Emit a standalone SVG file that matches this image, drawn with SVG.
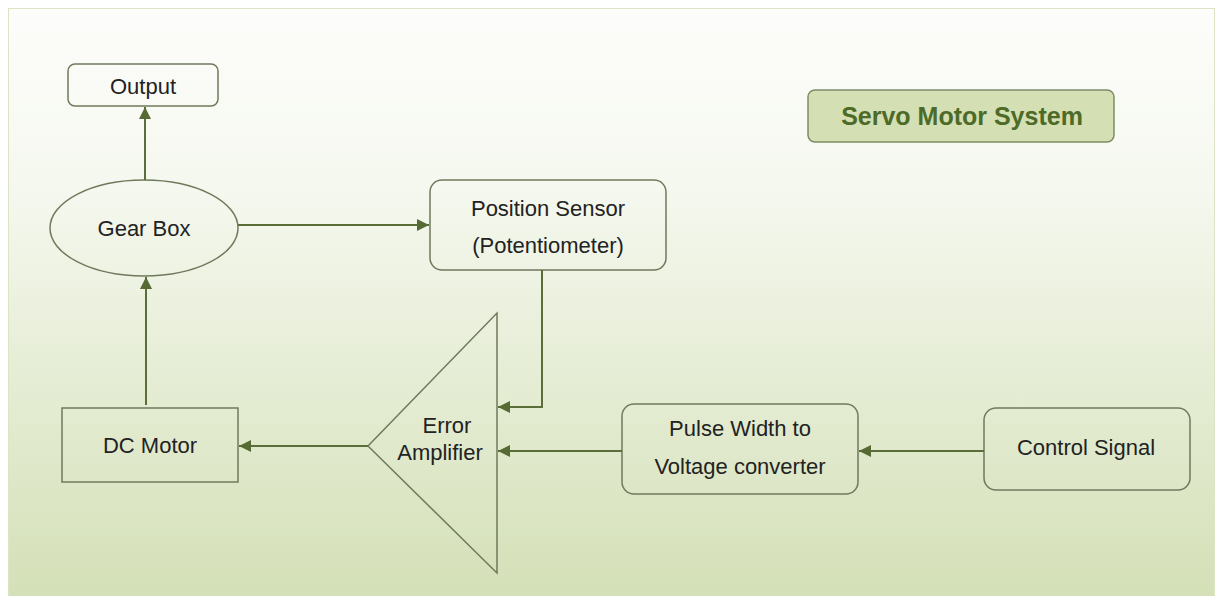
<svg xmlns="http://www.w3.org/2000/svg" width="1218" height="596" viewBox="0 0 1218 596">
<defs>
<linearGradient id="bg" x1="0" y1="0" x2="0" y2="1">
<stop offset="0" stop-color="#fdfdfb"/>
<stop offset="0.3" stop-color="#f5f8ef"/>
<stop offset="1" stop-color="#d4e0b7"/>
</linearGradient>
<marker id="ah" viewBox="0 0 12 12" refX="12" refY="6" markerWidth="12" markerHeight="12" markerUnits="userSpaceOnUse" orient="auto">
<path d="M0,0 L12,6 L0,12 z" fill="#566a34"/>
</marker>
<style>
.node{fill:none;stroke:#6f7a5c;stroke-width:1.5}
.lbl{font-family:"Liberation Sans",Arial,sans-serif;font-size:22px;fill:#222;text-anchor:middle;dominant-baseline:central}
.conn{fill:none;stroke:#5b6e3a;stroke-width:2;marker-end:url(#ah)}
.title{font-family:"Liberation Sans",Arial,sans-serif;font-size:25px;font-weight:bold;fill:#4d6b27;text-anchor:middle;dominant-baseline:central}
</style>
</defs>
<rect x="8.5" y="8.5" width="1206" height="590" fill="url(#bg)" stroke="#dde4c6" stroke-width="1"/>
<g id="title">
<rect x="808" y="90" width="306" height="52" rx="7" fill="#d4dfb4" stroke="#7f8c68" stroke-width="1.5"/>
<text class="title" x="962" y="116">Servo Motor  System</text>
</g>
<g id="output">
<rect class="node" x="68" y="64" width="150" height="42" rx="7"/>
<text class="lbl" x="143" y="86">Output</text>
</g>
<g id="gearbox">
<ellipse class="node" cx="144" cy="228" rx="94" ry="48"/>
<text class="lbl" x="144" y="228">Gear Box</text>
</g>
<g id="sensor">
<rect class="node" x="430" y="180" width="236" height="90" rx="12"/>
<text class="lbl" x="548" y="208">Position Sensor</text>
<text class="lbl" x="548" y="245">(Potentiometer)</text>
</g>
<g id="amplifier">
<path class="node" d="M497,313 L497,573 L368,446 z"/>
<text class="lbl" x="447" y="425">Error</text>
<text class="lbl" x="440" y="452">Amplifier</text>
</g>
<g id="dcmotor">
<rect class="node" x="62" y="408" width="176" height="74"/>
<text class="lbl" x="150" y="445">DC Motor</text>
</g>
<g id="pwconv">
<rect class="node" x="622" y="404" width="236" height="90" rx="12"/>
<text class="lbl" x="740" y="428">Pulse Width to</text>
<text class="lbl" x="740" y="466">Voltage converter</text>
</g>
<g id="control">
<rect class="node" x="984" y="408" width="206" height="82" rx="12"/>
<text class="lbl" x="1086" y="447">Control Signal</text>
</g>
<g id="connectors">
<path class="conn" d="M145,180 L145,107"/>
<path class="conn" d="M238,225 L429,225"/>
<path class="conn" d="M542,270 L542,407 L498,407"/>
<path class="conn" d="M368,446 L239,446"/>
<path class="conn" d="M146,405 L146,277"/>
<path class="conn" d="M622,451 L498,451"/>
<path class="conn" d="M984,451 L859,451"/>
</g>
</svg>
